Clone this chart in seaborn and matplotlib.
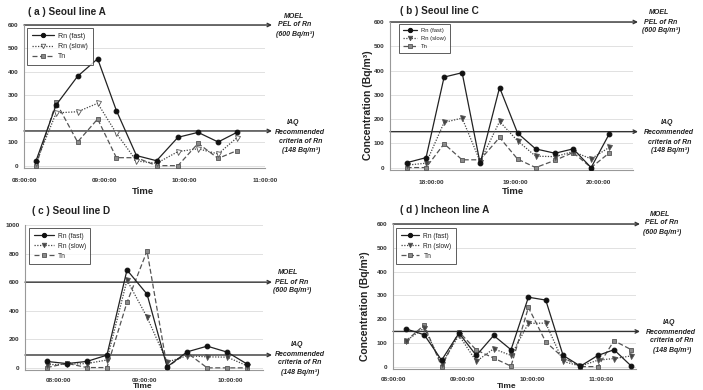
import matplotlib
matplotlib.use("Agg")
import matplotlib.pyplot as plt
import matplotlib.transforms as mtransforms
from matplotlib.ticker import MultipleLocator, FuncFormatter
import seaborn as sns
import pandas as pd

# ---------------- data ----------------
a_times = ["08:09", "08:24", "08:40", "08:55", "09:09", "09:24", "09:39", "09:55", "10:10", "10:25", "10:39"]
a_fast = [21, 259, 381, 456, 235, 43, 21, 121, 142, 101, 142]
a_slow = [12, 225, 230, 266, 138, 20, 10, 60, 72, 50, 119]
a_tn = [0, 270, 101, 199, 34, 34, 0, 0, 95, 31, 64]

b_times = ["17:42", "17:56", "18:09", "18:22", "18:35", "18:49", "19:02", "19:15", "19:29", "19:42", "19:55", "20:08"]
b_fast = [20, 41, 373, 391, 17, 330, 142, 77, 59, 77, 0, 138]
b_slow = [10, 18, 186, 204, 25, 190, 110, 47, 45, 66, 36, 83]
b_tn = [0, 0, 98, 32, 32, 124, 35, 0, 30, 62, 0, 60]

c_times = ["07:52", "08:06", "08:20", "08:34", "08:48", "09:02", "09:16", "09:30", "09:44", "09:58", "10:12"]
c_fast = [45, 30, 45, 89, 685, 516, 7, 112, 152, 110, 26]
c_slow = [22, 25, 30, 55, 614, 355, 40, 85, 77, 75, 14]
c_tn = [2, 32, 2, 2, 458, 818, 5, 105, 0, 0, 0]

d_times = ["08:11", "08:27", "08:42", "08:57", "09:12", "09:27", "09:42", "09:57", "10:12", "10:27", "10:42", "10:57", "11:11", "11:26"]
d_fast = [159, 134, 27, 141, 47, 131, 71, 292, 280, 47, 2, 47, 71, 2]
d_slow = [107, 163, 12, 132, 22, 75, 47, 182, 183, 22, 2, 27, 34, 45]
d_tn = [107, 175, 0, 146, 70, 36, 2, 249, 104, 38, 0, 0, 109, 71]

titles = ["( a ) Seoul line A", "( b ) Seoul line C", "( c ) Seoul line D", "( d ) Incheon line A"]
series_names = ["Rn (fast)", "Rn (slow)", "Tn"]
moel_text = ["MOEL", "PEL of Rn", "(600 Bq/m\u00b3)"]
iaq_text = ["IAQ", "Recommended", "criteria of Rn", "(148 Bq/m\u00b3)"]
moel_level = [600, 600, 600, 600]
iaq_level = [148, 148, 90, 148]   # drawn position of the IAQ line in each panel
ylabel_text = "Concentration (Bq/m\u00b3)"
xlabel_text = "Time"

# ---------------- styling / layout ----------------
sns.set_theme(style="white")
plt.rcParams["font.family"] = ["Liberation Sans", "DejaVu Sans"]

W, H = 703, 390
fig = plt.figure(figsize=(W / 100, H / 100), dpi=100)


def fx(x):
    return x / W


def fy(y):
    return 1 - y / H


def to_hours(ts):
    return [int(t[:2]) + int(t[3:]) / 60 for t in ts]


panels = [
    dict(times=a_times, fast=a_fast, slow=a_slow, tn=a_tn, rect=(24, 25, 265, 168),
         xlim=(8.0, 11.0), ylim=(-10, 600), ystep=100, title_xy=(28, 12),
         tip=272, moel_xy=[(294, 16), (295, 25), (295, 34)],
         iaq_xy=[(293, 122), (300, 132), (301, 141), (301, 150)],
         leg=(27, 28), leg_fs=5.0, hl=3.2, slow_face="white", ylabel=None,
         time_xy=(143, 191), time_fs=6.8, xpad=4),
    dict(times=b_times, fast=b_fast, slow=b_slow, tn=b_tn, rect=(390, 22, 633, 170),
         xlim=(17.5, 20.42), ylim=(-10, 600), ystep=100, title_xy=(400, 11),
         tip=638, moel_xy=[(659, 13), (661, 22), (661, 31)],
         iaq_xy=[(667, 123), (669, 132), (670, 142), (670, 151)],
         leg=(399, 24), leg_fs=4.2, hl=2.4, slow_face="#444444", ylabel=(368, 105),
         time_xy=(513, 192), time_fs=6.8, xpad=4),
    dict(times=c_times, fast=c_fast, slow=c_slow, tn=c_tn, rect=(25, 225, 263, 370),
         xlim=(7.613, 10.383), ylim=(-15, 1000), ystep=200, title_xy=(32, 211),
         tip=272, moel_xy=[(288, 273), (292, 282), (292, 291)],
         iaq_xy=[(297, 345), (300, 354), (300, 363), (300, 372)],
         leg=(29, 228), leg_fs=4.8, hl=3.0, slow_face="#444444", ylabel=None,
         time_xy=(143, 386), time_fs=6.0, xpad=3),
    dict(times=d_times, fast=d_fast, slow=d_slow, tn=d_tn, rect=(393, 224, 636, 369),
         xlim=(8.0, 11.5), ylim=(-10, 600), ystep=100, title_xy=(400, 210),
         tip=640, moel_xy=[(660, 214), (662, 223), (662, 232)],
         iaq_xy=[(669, 322), (671, 332), (672, 341), (672, 350)],
         leg=(396, 228), leg_fs=4.8, hl=2.8, slow_face="#444444", ylabel=(365, 306),
         time_xy=(507, 386), time_fs=6.0, xpad=3),
]

for i, p in enumerate(panels):
    l, t, r, b = p["rect"]
    ax = fig.add_axes([fx(l), fy(b), (r - l) / W, (b - t) / H])
    hrs = to_hours(p["times"])
    df = pd.DataFrame({"hour": hrs, "fast": p["fast"], "slow": p["slow"], "tn": p["tn"]})

    sns.lineplot(data=df, x="hour", y="fast", ax=ax, color="#222222", lw=0.9, linestyle="-",
                 marker="o", markersize=3.4, markerfacecolor="#111111", markeredgecolor="#111111",
                 label=series_names[0], zorder=5)
    sns.lineplot(data=df, x="hour", y="slow", ax=ax, color="#444444", lw=0.9, linestyle=(0, (1, 1.2)),
                 marker="v", markersize=3.6, markerfacecolor=p["slow_face"], markeredgecolor="#555555",
                 markeredgewidth=0.6, label=series_names[1], zorder=4)
    sns.lineplot(data=df, x="hour", y="tn", ax=ax, color="#555555", lw=0.9, linestyle=(0, (4, 2)),
                 marker="s", markersize=3.3, markerfacecolor="#8a8a8a", markeredgecolor="#555555",
                 markeredgewidth=0.6, label=series_names[2], zorder=3)

    ax.set_xlim(*p["xlim"])
    ax.set_ylim(*p["ylim"])
    ax.yaxis.set_major_locator(MultipleLocator(p["ystep"]))
    ax.xaxis.set_major_locator(MultipleLocator(1))
    ax.xaxis.set_minor_locator(MultipleLocator(0.25))
    ax.xaxis.set_major_formatter(FuncFormatter(lambda v, pos: f"{int(round(v)):02d}:00:00"))
    ax.grid(axis="y", color="#dcdcdc", lw=0.6)
    ax.set_axisbelow(True)
    for s in ["top", "right"]:
        ax.spines[s].set_visible(False)
    for s in ["left", "bottom"]:
        ax.spines[s].set_color("#999999")
        ax.spines[s].set_linewidth(0.8)
    ax.tick_params(axis="both", which="both", direction="out", colors="#888888",
                   labelcolor="#333333", labelsize=4.6, width=0.6)
    ax.tick_params(axis="x", which="major", length=3, pad=p["xpad"])
    ax.tick_params(axis="x", which="minor", length=2)
    ax.tick_params(axis="y", which="major", length=2, pad=2)
    for lab in ax.get_xticklabels() + ax.get_yticklabels():
        lab.set_fontweight("bold")
    ax.set_xlabel("")
    ax.set_ylabel("")

    # threshold lines with arrows
    trans = mtransforms.blended_transform_factory(ax.transAxes, ax.transData)
    tip_frac = (p["tip"] - l) / (r - l)
    for lvl in (moel_level[i], iaq_level[i]):
        ax.annotate("", xy=(tip_frac, lvl), xytext=(0, lvl), xycoords=trans, textcoords=trans,
                    arrowprops=dict(arrowstyle="->", lw=1.0, color="#333333",
                                    shrinkA=0, shrinkB=0, mutation_scale=6),
                    annotation_clip=False, zorder=2)
    for txt, (x, y) in zip(moel_text, p["moel_xy"]):
        fig.text(fx(x), fy(y), txt, ha="center", va="center", fontsize=5.0,
                 style="italic", fontweight="bold", color="#222222")
    for txt, (x, y) in zip(iaq_text, p["iaq_xy"]):
        fig.text(fx(x), fy(y), txt, ha="center", va="center", fontsize=5.0,
                 style="italic", fontweight="bold", color="#222222")

    # title
    fig.text(fx(p["title_xy"][0]), fy(p["title_xy"][1]), titles[i], ha="left", va="center",
             fontsize=7.2, fontweight="bold", color="#222222")
    # axis labels
    if p["ylabel"] is not None:
        fig.text(fx(p["ylabel"][0]), fy(p["ylabel"][1]), ylabel_text, rotation=90,
                 ha="center", va="center", fontsize=7.5, fontweight="bold", color="#222222")
    fig.text(fx(p["time_xy"][0]), fy(p["time_xy"][1]), xlabel_text, ha="center", va="center",
             fontsize=p["time_fs"], fontweight="bold", color="#222222")

    # legend
    lx, ly = p["leg"]
    leg = ax.legend(loc="upper left", bbox_to_anchor=(fx(lx), fy(ly)), bbox_transform=fig.transFigure,
                    fontsize=p["leg_fs"], frameon=True, fancybox=False, edgecolor="#333333",
                    borderaxespad=0, borderpad=0.7, labelspacing=0.45, handlelength=p["hl"],
                    handletextpad=0.6, markerscale=0.9)
    leg.get_frame().set_linewidth(0.7)
    for txt in leg.get_texts():
        txt.set_color("#222222")

fig.savefig("out.png", dpi=100)
